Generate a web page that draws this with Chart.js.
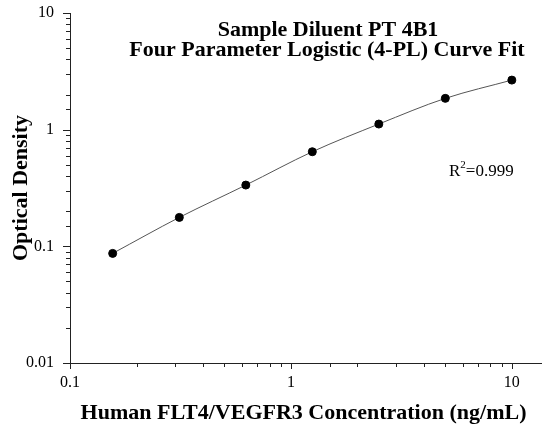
<!DOCTYPE html>
<html>
<head>
<meta charset="utf-8">
<script src="https://cdn.jsdelivr.net/npm/chart.js@4.4.0/dist/chart.umd.min.js"></script>
<style>
  html, body { margin: 0; padding: 0; background: #fff; }
  #wrap { width: 542px; height: 427px; }
</style>
</head>
<body>
<div id="wrap"><canvas id="curveChart" width="542" height="427"></canvas></div>
<script>
// данные стандартной кривой
const concentrations = [0.156, 0.3125, 0.625, 1.25, 2.5, 5, 10];
const odValues = [0.087, 0.177, 0.335, 0.647, 1.117, 1.855, 2.66];
const titleLines = ['Sample Diluent PT 4B1', 'Four Parameter Logistic (4-PL) Curve Fit'];
const xTitle = 'Human FLT4/VEGFR3 Concentration (ng/mL)';
const yTitle = 'Optical Density';
const majorTicks = [0.01, 0.1, 1, 10];

const serif = '"Liberation Serif", "Times New Roman", serif';

function isMajor(v) {
    return majorTicks.some(m => Math.abs(v - m) < m * 1e-6);
}

// заголовок и R2 внутри области графика, плюс засечки осей
const extras = {
    id: 'extras',
    afterDraw(chart) {
        const ctx = chart.ctx;
        const xs = chart.scales.x, ys = chart.scales.y;
        ctx.save();
        ctx.strokeStyle = '#222';
        ctx.lineWidth = 1;
        ctx.beginPath();
        // ось X тянется до правого края
        ctx.moveTo(xs.right, ys.bottom + 0.5);
        ctx.lineTo(chart.width, ys.bottom + 0.5);
        xs.ticks.forEach(t => {
            if (t.value > 10.001) return;
            const px = Math.round(xs.getPixelForValue(t.value)) + 0.5;
            const len = isMajor(t.value) ? 6 : 4;
            ctx.moveTo(px, ys.bottom);
            ctx.lineTo(px, ys.bottom + len);
        });
        ys.ticks.forEach(t => {
            const py = Math.round(ys.getPixelForValue(t.value)) + 0.5;
            const len = isMajor(t.value) ? 7 : 4;
            ctx.moveTo(xs.left, py);
            ctx.lineTo(xs.left - len, py);
        });
        ctx.stroke();

        ctx.fillStyle = '#000';
        ctx.textAlign = 'center';
        ctx.textBaseline = 'alphabetic';
        ctx.font = 'bold 22px ' + serif;
        ctx.fillText(titleLines[0], 328, 36);
        ctx.fillText(titleLines[1], 327, 56);

        ctx.textAlign = 'left';
        ctx.font = '17px ' + serif;
        ctx.fillText('R', 449, 176);
        const rw = ctx.measureText('R').width;
        ctx.font = '11px ' + serif;
        ctx.fillText('2', 449 + rw, 168);
        const sw = ctx.measureText('2').width;
        ctx.font = '17px ' + serif;
        ctx.fillText('=0.999', 449 + rw + sw, 176);
        ctx.restore();
    }
};

const ctx = document.getElementById('curveChart').getContext('2d');
new Chart(ctx, {
    type: 'line',
    data: {
        datasets: [{
            data: concentrations.map((c, i) => ({ x: c, y: odValues[i] })),
            borderColor: '#555',
            borderWidth: 1,
            pointRadius: 4,
            pointBackgroundColor: '#000',
            pointBorderColor: '#000',
            cubicInterpolationMode: 'monotone',
            fill: false
        }]
    },
    options: {
        responsive: false,
        animation: false,
        layout: { padding: { top: 13, right: 0, left: 0, bottom: 0 } },
        plugins: {
            legend: { display: false },
            tooltip: { enabled: false }
        },
        scales: {
            x: {
                type: 'logarithmic',
                min: 0.1,
                max: 13,
                border: { display: true, color: '#222', width: 1 },
                grid: { display: false, drawTicks: false },
                ticks: {
                    autoSkip: false,
                    maxRotation: 0,
                    color: '#000',
                    font: { family: serif, size: 16 },
                    padding: 10,
                    callback: v => isMajor(v) ? String(v) : ''
                },
                title: {
                    display: true,
                    text: xTitle,
                    color: '#000',
                    font: { family: serif, size: 22, weight: 'bold' },
                    padding: { top: 2, bottom: 0 }
                },
                afterFit: s => { s.height = 64; s.paddingRight = 0; s.paddingLeft = 0; }
            },
            y: {
                type: 'logarithmic',
                min: 0.01,
                max: 10,
                border: { display: true, color: '#222', width: 1 },
                grid: { display: false, drawTicks: false },
                ticks: {
                    autoSkip: false,
                    color: '#000',
                    font: { family: serif, size: 16 },
                    padding: 16,
                    callback: v => isMajor(v) ? String(v) : ''
                },
                title: {
                    display: true,
                    text: yTitle,
                    color: '#000',
                    font: { family: serif, size: 22, weight: 'bold' },
                    padding: { top: 8, bottom: 4 }
                },
                afterFit: s => { s.width = 70; s.paddingTop = 0; s.paddingBottom = 0; }
            }
        }
    },
    plugins: [extras]
});
</script>
</body>
</html>
